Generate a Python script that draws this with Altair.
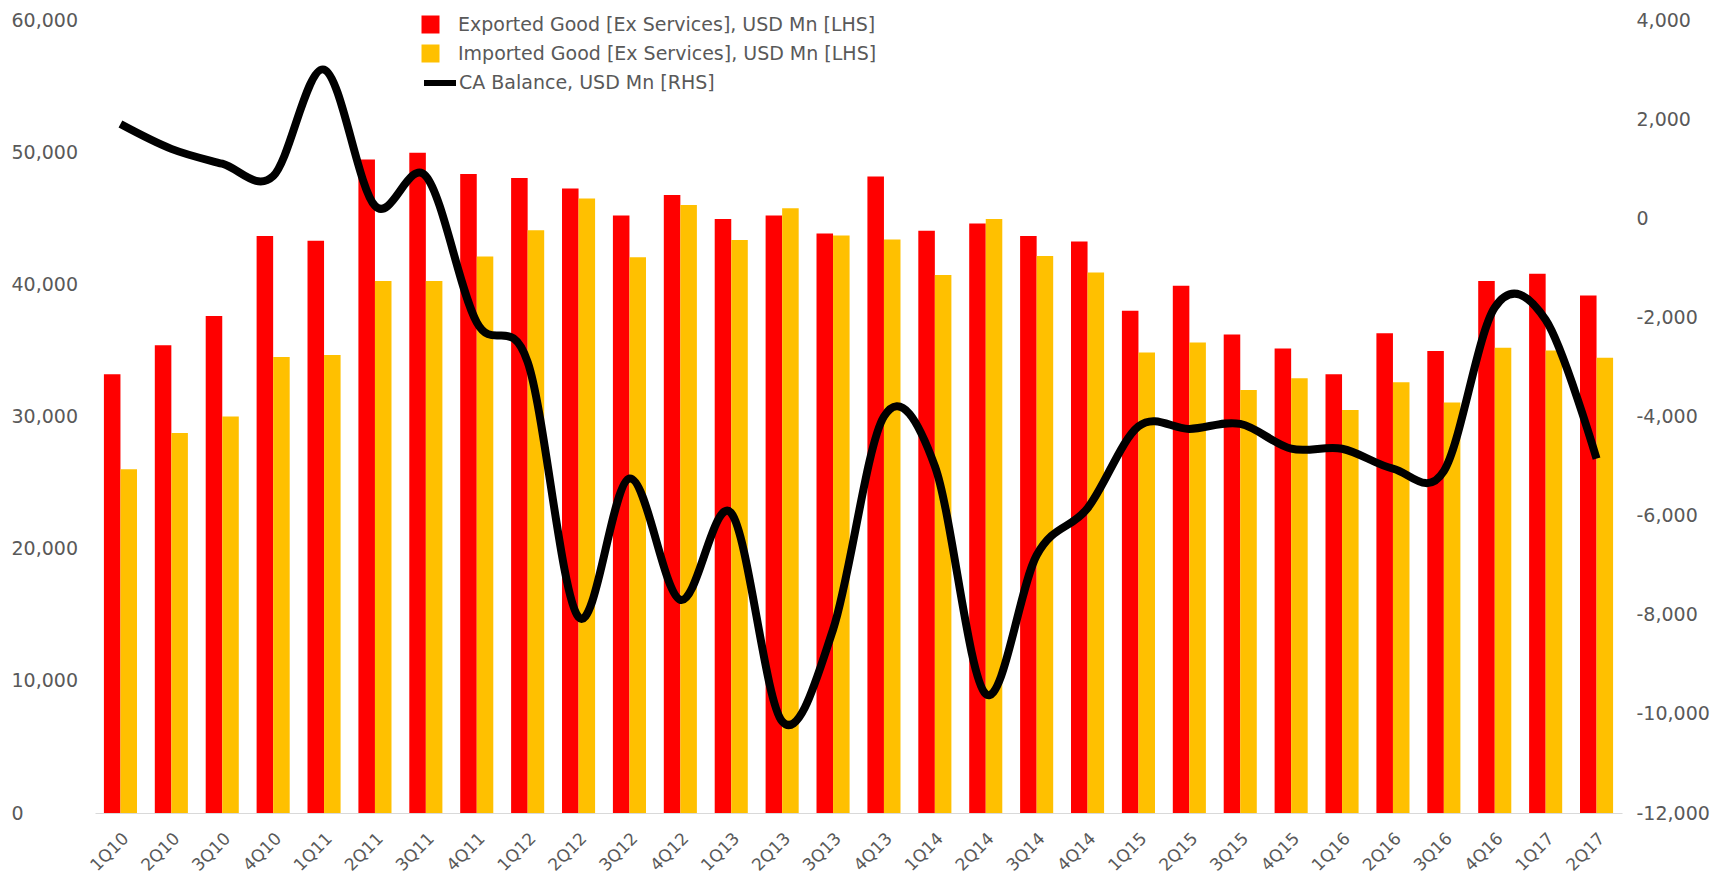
import altair as alt
import pandas as pd

# Quarterly trade in goods and current-account balance
quarters = [
    "1Q10", "2Q10", "3Q10", "4Q10", "1Q11", "2Q11", "3Q11", "4Q11",
    "1Q12", "2Q12", "3Q12", "4Q12", "1Q13", "2Q13", "3Q13", "4Q13",
    "1Q14", "2Q14", "3Q14", "4Q14", "1Q15", "2Q15", "3Q15", "4Q15",
    "1Q16", "2Q16", "3Q16", "4Q16", "1Q17", "2Q17",
]
exports = [
    33200, 35400, 37600, 43650, 43300, 49450, 49950, 48350,
    48050, 47250, 45200, 46750, 44950, 45200, 43850, 48150,
    44050, 44600, 43650, 43250, 38000, 39900, 36200, 35150,
    33200, 36300, 34950, 40250, 40800, 39150,
]
imports = [
    26000, 28750, 30000, 34500, 34650, 40250, 40250, 42100,
    44100, 46500, 42050, 46000, 43350, 45750, 43700, 43400,
    40700, 44950, 42150, 40900, 34850, 35600, 32000, 32900,
    30500, 32600, 31050, 35200, 35000, 34450,
]
ca_balance = [
    1900, 1400, 1100, 850, 3000, 250, 850, -2100,
    -2900, -8050, -5250, -7700, -5950, -10150, -8300, -4000,
    -5000, -9600, -6800, -5850, -4200, -4250, -4150, -4650,
    -4650, -5050, -5100, -1800, -2050, -4850,
]

EXP = "Exported Good [Ex Services], USD Mn [LHS]"
IMP = "Imported Good [Ex Services], USD Mn [LHS]"
CA = "CA Balance, USD Mn [RHS]"

bars_df = pd.DataFrame({
    "quarter": quarters * 2,
    "series": [EXP] * len(quarters) + [IMP] * len(quarters),
    "value": exports + imports,
})
line_df = pd.DataFrame({"quarter": quarters, "series": CA, "value": ca_balance})

FONT = "DejaVu Sans"
GREY = "#595959"
RED = "#FF0000"
GOLD = "#FFC000"

# thousands separators, with a plain hyphen for negatives
LABEL_EXPR = "datum.value < 0 ? '-' + format(abs(datum.value), ',') : format(datum.value, ',')"

x_enc = alt.X(
    "quarter:N",
    sort=quarters,
    title=None,
    scale=alt.Scale(paddingInner=0.35, paddingOuter=0.175),
    axis=alt.Axis(
        labelAngle=-45,
        labelFont=FONT,
        labelFontSize=17,
        labelColor=GREY,
        ticks=False,
        domainColor="#D9D9D9",
        labelPadding=17,
    ),
)

bars = alt.Chart(bars_df).mark_bar().encode(
    x=x_enc,
    xOffset=alt.XOffset("series:N", sort=[EXP, IMP]),
    y=alt.Y(
        "value:Q",
        title=None,
        scale=alt.Scale(domain=[0, 60000], nice=False),
        axis=alt.Axis(
            orient="left",
            values=list(range(0, 60001, 10000)),
            labelExpr=LABEL_EXPR,
            grid=False,
            domain=False,
            ticks=False,
            labelAlign="left",
            labelPadding=84,
            labelFont=FONT,
            labelFontSize=19,
            labelColor=GREY,
        ),
    ),
    color=alt.Color(
        "series:N",
        scale=alt.Scale(domain=[EXP, IMP], range=[RED, GOLD]),
        legend=alt.Legend(
            title=None,
            orient="none",
            legendX=326,
            legendY=-5,
            padding=0,
            symbolType="square",
            symbolSize=324,
            symbolStrokeWidth=0,
            labelOffset=18,
            rowPadding=9,
            labelFont=FONT,
            labelFontSize=19,
            labelColor=GREY,
            labelLimit=700,
        ),
    ),
)

line = alt.Chart(line_df).mark_line(interpolate="cardinal", strokeWidth=8).encode(
    x=alt.X("quarter:N", sort=quarters),
    y=alt.Y(
        "value:Q",
        title=None,
        scale=alt.Scale(domain=[-12000, 4000], nice=False),
        axis=alt.Axis(
            orient="right",
            values=list(range(-12000, 4001, 2000)),
            labelExpr=LABEL_EXPR,
            grid=False,
            domain=False,
            ticks=False,
            labelAlign="left",
            labelPadding=14,
            labelFont=FONT,
            labelFontSize=19,
            labelColor=GREY,
        ),
    ),
    stroke=alt.Stroke(
        "series:N",
        scale=alt.Scale(domain=[CA], range=["#000000"]),
        legend=alt.Legend(
            title=None,
            orient="none",
            legendX=326,
            legendY=44,
            padding=0,
            symbolType="stroke",
            symbolSize=1024,
            symbolStrokeWidth=6,
            labelOffset=0,
            labelFont=FONT,
            labelFontSize=19,
            labelColor=GREY,
            labelLimit=700,
        ),
    ),
)

chart = (
    alt.layer(bars, line)
    .resolve_scale(y="independent")
    .properties(
        width=1527,
        height=793,
        background="white",
        autosize=alt.AutoSizeParams(type="none"),
        padding={"left": 95, "top": 20, "right": 97, "bottom": 70},
    )
    .configure_view(stroke=None, strokeWidth=0)
)

chart.save("out.html", embed_options={"renderer": "svg", "actions": False})
